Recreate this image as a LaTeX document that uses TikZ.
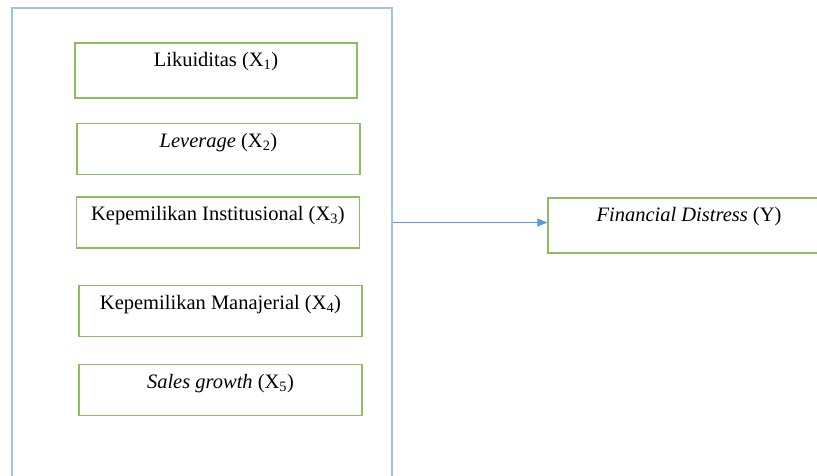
\documentclass[tikz,border=0pt]{standalone}
\usepackage{fontspec}
\setmainfont{Liberation Serif}
\usepackage{xcolor}
\usepackage{tikz}
\usetikzlibrary{arrows.meta,positioning}
\definecolor{frameblue}{RGB}{157,195,230}
\definecolor{arrowblue}{RGB}{91,155,213}
\definecolor{boxgreen}{RGB}{140,190,95}

\begin{document}
\begin{tikzpicture}[
  x=1pt, y=1pt,
  outerbox/.style={draw=frameblue, line width=1.6pt, minimum width=380pt, minimum height=492pt, inner sep=0pt},
  varbox/.style={draw=boxgreen, line width=1.3pt, minimum width=283pt, minimum height=51pt, inner sep=0pt},
  vartext/.style={font=\fontsize{20.5}{24}\selectfont, inner sep=0pt},
  arr/.style={-{Triangle[length=10pt,width=8pt]}, draw=arrowblue, line width=1pt}
]
  \useasboundingbox (0,0) rectangle (817,-475);
  \clip (0,0) rectangle (817,-475);
  % frame round the independent variables
  \node[outerbox] (frame) at (202,-254) {};
  % independent variables
  \node[varbox, minimum width=282pt, minimum height=55pt] (b1) at (216,-70.5) {};
  \node[varbox, below=24.5pt of b1, xshift=2.5pt] (b2) {};
  \node[varbox, below=21pt of b2, xshift=-0.5pt] (b3) {};
  \node[varbox, below=36pt of b3, xshift=2.5pt] (b4) {};
  \node[varbox, below=27pt of b4] (b5) {};
  \node[vartext, below=10pt of b1.north] (t1) {Likuiditas (X\textsubscript{1})};
  \node[vartext, below=10pt of b2.north] (t2) {\textit{Leverage} (X\textsubscript{2})};
  \node[vartext, below=10pt of b3.north] (t3) {Kepemilikan Institusional (X\textsubscript{3})};
  \node[vartext, below=10pt of b4.north] (t4) {Kepemilikan Manajerial (X\textsubscript{4})};
  \node[vartext, below=10pt of b5.north] (t5) {\textit{Sales growth} (X\textsubscript{5})};
  % dependent variable
  \node[varbox, minimum width=282pt, minimum height=55pt] (y) at (689,-225.5) {};
  \node[vartext, below=10pt of y.north] (ty) {\textit{Financial Distress} (Y)};
  \draw[arr] ([yshift=3pt]frame.east |- y.west) -- ([yshift=3pt]y.west);
\end{tikzpicture}
\end{document}
